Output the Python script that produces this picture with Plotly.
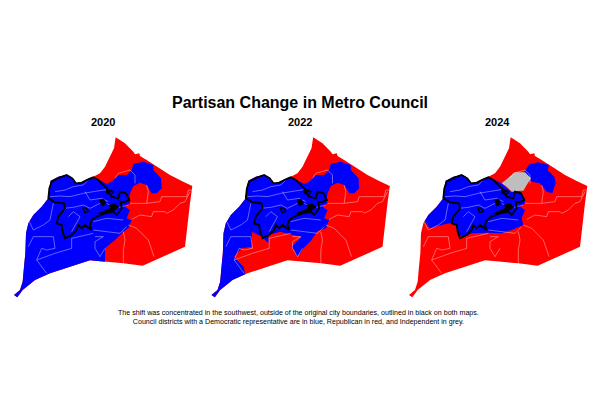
# Partisan change in Metro Council - three small maps
import plotly.graph_objects as go
from plotly.subplots import make_subplots

years = ["2020", "2022", "2024"]

# ==============================
# MAP SHAPES
# ==============================

county = [(347, 52), (375, 70), (400, 95), (405, 103), (418, 100), (420, 108), (440, 120), (470, 140),
          (510, 165), (545, 183), (577, 198), (570, 250), (562, 320), (555, 380), (500, 405), (428, 437),
          (370, 430), (315, 425), (270, 421), (210, 440), (150, 460), (105, 480), (85, 495), (68, 510),
          (52, 532), (42, 525), (60, 510), (68, 485), (72, 440), (76, 400), (78, 340), (85, 310), (100, 285),
          (125, 260), (143, 237), (147, 205), (152, 182), (175, 170), (200, 165), (215, 172), (228, 190),
          (245, 188), (262, 178), (280, 170), (300, 160), (315, 140), (330, 110), (342, 85)]

# west side of the county, shared by the blue areas
sw_shore = [(270, 421), (210, 440), (150, 460), (105, 480), (85, 495), (68, 510), (52, 532), (42, 525),
            (60, 510), (68, 485), (72, 440), (76, 400), (78, 340), (85, 310), (100, 285)]
nw_shore = [(125, 260), (143, 237), (147, 205), (152, 182), (175, 170), (200, 165), (215, 172), (228, 190),
            (245, 188), (262, 178), (280, 170)]

# north east lobe and the edge down to the river side, same in 2020 and 2022
lobe_edge = [(283, 172), (320, 192), (335, 185), (355, 165), (380, 165), (395, 150), (400, 132), (430, 125),
             (460, 135), (460, 150), (483, 175), (485, 205), (470, 220), (455, 220), (440, 195), (420, 188),
             (400, 198), (390, 220), (388, 235), (390, 250), (375, 260), (390, 270), (380, 295), (395, 300)]

east_2020 = [(385, 325), (370, 335), (345, 360), (315, 385), (315, 425)]

east_2022 = [(385, 325), (360, 333), (340, 362), (318, 385), (308, 400), (298, 410), (290, 390), (283, 380),
             (298, 365), (312, 350), (288, 345), (248, 335), (213, 345), (213, 370), (193, 350), (163, 335),
             (163, 380), (133, 385), (110, 410), (118, 420), (138, 440), (143, 463)]

blue_2024_main = [(320, 190), (335, 205), (350, 215), (375, 215), (388, 235), (390, 250), (375, 260), (390, 270),
                  (380, 295), (385, 315), (350, 330), (320, 340), (280, 338), (230, 340), (205, 352), (190, 345),
                  (185, 320), (170, 308), (140, 315), (105, 325), (88, 305), (100, 285)]
blue_2024_ne = [(385, 160), (403, 133), (430, 127), (462, 135), (458, 150), (478, 170), (482, 190), (472, 220),
                (455, 215), (435, 190), (410, 185), (395, 170)]
grey_2024 = [(320, 190), (345, 170), (360, 157), (390, 157), (408, 175), (395, 195), (385, 212), (375, 212),
             (350, 215), (335, 200)]

blue_areas = {
    "2020": [lobe_edge + east_2020 + sw_shore + nw_shore],
    "2022": [lobe_edge + east_2022 + sw_shore[3:] + nw_shore],
    "2024": [blue_2024_main + nw_shore, blue_2024_ne],
}
grey_areas = {"2020": [], "2022": [], "2024": [grey_2024]}

# thin district lines
district_lines = [
    [(165, 215), (195, 210), (220, 200), (250, 195), (265, 180)],
    [(150, 230), (180, 228), (210, 230), (250, 220), (280, 215), (325, 208)],
    [(255, 215), (270, 240), (305, 235), (325, 245)],
    [(192, 265), (220, 262), (250, 255), (270, 265), (300, 250)],
    [(205, 290), (220, 275), (240, 290), (215, 335)],
    [(160, 250), (150, 300), (130, 315), (100, 330), (88, 305)],
    [(85, 380), (100, 350), (160, 350), (165, 385), (140, 390), (125, 385), (110, 420)],
    [(110, 420), (165, 400), (215, 385), (215, 355), (280, 340)],
    [(110, 420), (140, 460)],
    [(285, 350), (310, 350), (285, 365), (285, 385), (300, 410), (315, 385)],
    [(370, 335), (375, 360), (370, 390), (370, 430)],
    [(385, 315), (410, 325), (445, 360), (455, 390), (462, 410)],
    [(395, 298), (420, 285), (455, 290), (460, 275), (495, 275), (500, 280), (520, 270), (540, 250), (555, 245),
     (570, 215)],
    [(390, 250), (440, 250), (480, 245), (485, 230), (560, 230), (565, 210), (575, 210)],
    [(405, 190), (405, 165), (390, 150), (355, 160), (345, 175)],
    [(440, 195), (445, 215), (440, 250)],
    [(280, 305), (320, 295), (370, 300)],
    [(280, 330), (360, 340), (380, 320)],
    [(320, 250), (345, 265), (385, 255)],
]

# original city boundary
city_line = [(145, 235), (148, 205), (155, 185), (180, 172), (200, 165), (217, 175), (228, 190), (245, 188),
             (265, 178), (280, 172), (295, 180), (315, 200), (325, 210), (340, 215), (332, 225), (335, 230),
             (355, 235), (360, 215), (378, 220), (388, 240), (372, 247), (362, 245), (365, 265), (350, 285),
             (340, 275), (315, 280), (290, 290), (275, 300), (270, 315), (275, 330), (265, 322), (255, 315),
             (245, 325), (235, 315), (230, 330), (215, 345), (195, 355), (188, 335), (185, 315), (170, 310),
             (175, 290), (195, 265), (192, 250), (165, 247), (145, 235)]
city_spots = [
    [(298, 240), (312, 236), (318, 252), (305, 260)],
    [(318, 205), (332, 210), (330, 225), (318, 220)],
    [(325, 255), (345, 250), (358, 262), (340, 274)],
    [(290, 282), (320, 270), (335, 262), (340, 272), (315, 282)],
]
city_rings = [[(248, 262), (258, 264), (265, 274), (254, 278), (248, 262)]]

title = "Partisan Change in Metro Council"
caption = ("The shift was concentrated in the southwest, outside of the original city boundaries, "
           "outlined in black on both maps.<br>"
           "Council districts with a Democratic representative are in blue, Republican in red, "
           "and Independent in grey.")


def add_poly(fig, pts, color, col):
    fig.add_trace(go.Scatter(x=[p[0] for p in pts] + [pts[0][0]], y=[p[1] for p in pts] + [pts[0][1]],
                             mode="lines", fill="toself", fillcolor=color, line=dict(width=0),
                             hoverinfo="skip", showlegend=False), row=1, col=col)


def add_line(fig, pts, color, width, col):
    fig.add_trace(go.Scatter(x=[p[0] for p in pts], y=[p[1] for p in pts], mode="lines",
                             line=dict(color=color, width=width),
                             hoverinfo="skip", showlegend=False), row=1, col=col)


fig = make_subplots(rows=1, cols=3)

for i, year in enumerate(years):
    col = i + 1
    add_poly(fig, county, "#FF0000", col)
    for area in blue_areas[year]:
        add_poly(fig, area, "#0000FF", col)
    for area in grey_areas[year]:
        add_poly(fig, area, "#BEBEBE", col)
    for seg in district_lines:
        add_line(fig, seg, "rgba(255,255,255,0.55)", 0.7, col)
    for spot in city_spots:
        add_poly(fig, spot, "#000000", col)
    for ring in city_rings:
        add_line(fig, ring, "#000000", 1.4, col)
    add_line(fig, city_line, "#000000", 1.8, col)

    # panels sit 197.5 px apart, one map unit is a third of a pixel
    axis_x = "xaxis" if i == 0 else f"xaxis{col}"
    axis_y = "yaxis" if i == 0 else f"yaxis{col}"
    fig.update_layout({
        axis_x: dict(domain=[i * 197.5 / 600, (i + 1) * 197.5 / 600], range=[0, 592.5], visible=False),
        axis_y: dict(domain=[110 / 420, 300 / 420], range=[570, 0], visible=False),
    })
    fig.add_annotation(x=(102.5 + i * 197.5) / 600, y=1 - 122 / 420, xref="paper", yref="paper",
                       text=f"<b>{year}</b>", showarrow=False, xanchor="center", yanchor="middle",
                       font=dict(family="Liberation Sans", size=11, color="#000000"))

fig.add_annotation(x=0.5, y=1 - 102 / 420, xref="paper", yref="paper", text=f"<b>{title}</b>", showarrow=False,
                   xanchor="center", yanchor="middle", font=dict(family="Liberation Sans", size=16, color="#000000"))
fig.add_annotation(x=0.497, y=1 - 317 / 420, xref="paper", yref="paper", text=caption, showarrow=False,
                   xanchor="center", yanchor="middle", font=dict(family="Liberation Sans", size=7.1, color="#000000"))

fig.update_layout(width=600, height=420, margin=dict(l=0, r=0, t=0, b=0),
                  paper_bgcolor="white", plot_bgcolor="white", showlegend=False)

# page margin would push the fixed size figure 8 px off
fig.write_html("out.html", config={"displayModeBar": False}, post_script="document.body.style.margin='0';")
